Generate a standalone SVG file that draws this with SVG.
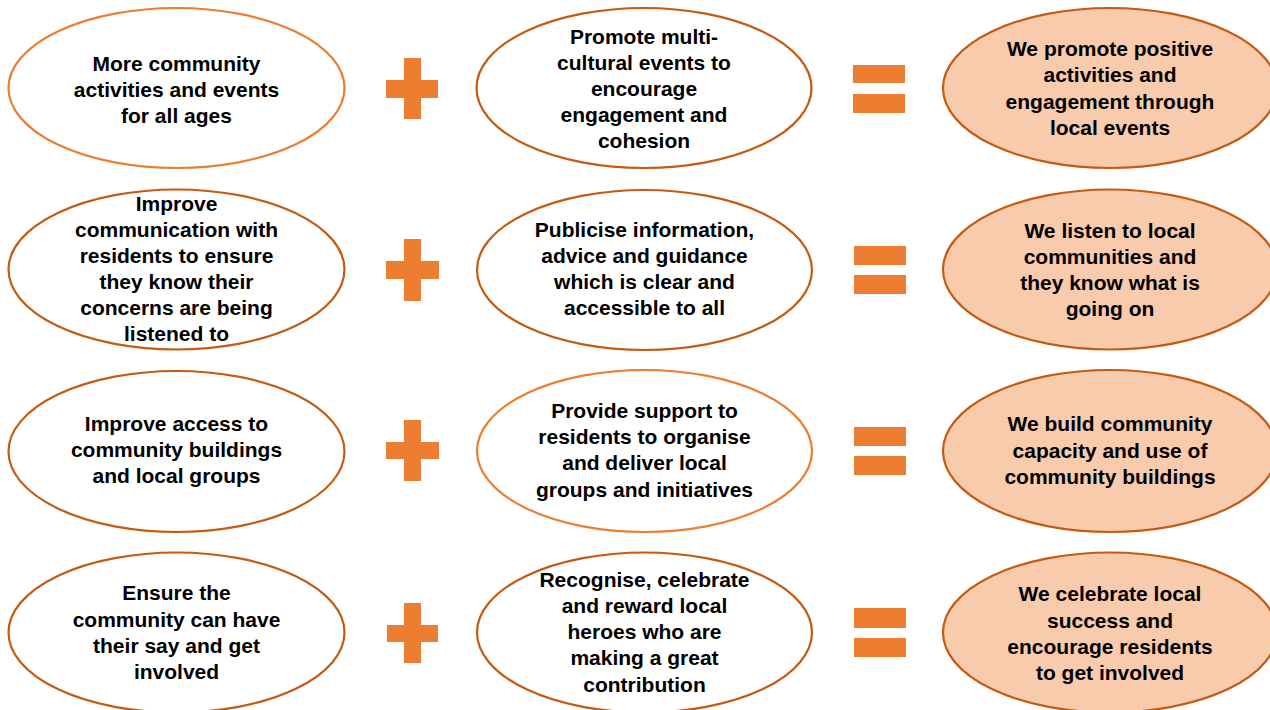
<svg xmlns="http://www.w3.org/2000/svg" width="1270" height="710" viewBox="0 0 1270 710">
<style>
.e{fill:#ffffff;stroke:#C55A11;stroke-width:2.2}
.el{fill:#ffffff;stroke:#ED7D31;stroke-width:2.2}
.r{fill:#F8CBAD;stroke:#C55A11;stroke-width:2.2}
.op{fill:#ED7D31}
text{font-family:"Liberation Sans",Arial,sans-serif;font-weight:bold;font-size:21px;fill:#000;text-anchor:middle}
</style>
<rect width="1270" height="710" fill="#ffffff"/>
<g id="connectors">
<path class="op" d="M404 58H421V80H438V98H421V119H404V98H386V80H404Z"/>
<path class="op" d="M404 239H421V261H439V279H421V301H404V279H386V261H404Z"/>
<path class="op" d="M404 420H421V442H439V459H421V481H404V459H386V442H404Z"/>
<path class="op" d="M404 603H421V625H438V642H421V663H404V642H387V625H404Z"/>
<rect class="op" x="853" y="65" width="52" height="18"/>
<rect class="op" x="853" y="94" width="52" height="19"/>
<rect class="op" x="854" y="246" width="52" height="19"/>
<rect class="op" x="854" y="275" width="52" height="19"/>
<rect class="op" x="854" y="427" width="52" height="19"/>
<rect class="op" x="854" y="456" width="52" height="19"/>
<rect class="op" x="854" y="608" width="52" height="20"/>
<rect class="op" x="854" y="638" width="52" height="19"/>
</g>
<g id="n1a"><ellipse class="el" cx="176.5" cy="88" rx="168" ry="80"/>
<text x="176.5" y="70.5">More community</text><text x="176.5" y="96.5">activities and events</text><text x="176.5" y="122.5">for all ages</text></g>
<g id="n1b"><ellipse class="e" cx="644" cy="88" rx="167.5" ry="80"/>
<text x="644" y="44">Promote multi-</text><text x="644" y="70">cultural events to</text><text x="644" y="96">encourage</text><text x="644" y="122">engagement and</text><text x="644" y="148">cohesion</text></g>
<g id="n1c"><ellipse class="r" cx="1110" cy="88" rx="167" ry="80"/>
<text x="1110" y="55.5">We promote positive</text><text x="1110" y="82">activities and</text><text x="1110" y="108.5">engagement through</text><text x="1110" y="135">local events</text></g>
<g id="n2a"><ellipse class="e" cx="176.5" cy="269.5" rx="168" ry="80"/>
<text x="176.5" y="210.5">Improve</text><text x="176.5" y="236.5">communication with</text><text x="176.5" y="262.5">residents to ensure</text><text x="176.5" y="288.5">they know their</text><text x="176.5" y="314.5">concerns are being</text><text x="176.5" y="340.5">listened to</text></g>
<g id="n2b"><ellipse class="e" cx="644.5" cy="270" rx="167.5" ry="80"/>
<text x="644.5" y="237">Publicise information,</text><text x="644.5" y="263">advice and guidance</text><text x="644.5" y="289">which is clear and</text><text x="644.5" y="315">accessible to all</text></g>
<g id="n2c"><ellipse class="r" cx="1110" cy="269.5" rx="167" ry="80"/>
<text x="1110" y="237.5">We listen to local</text><text x="1110" y="263.5">communities and</text><text x="1110" y="289.5">they know what is</text><text x="1110" y="315.5">going on</text></g>
<g id="n3a"><ellipse class="e" cx="176.5" cy="451.5" rx="168" ry="80.5"/>
<text x="176.5" y="431">Improve access to</text><text x="176.5" y="457">community buildings</text><text x="176.5" y="483">and local groups</text></g>
<g id="n3b"><ellipse class="el" cx="644.5" cy="451" rx="167.5" ry="81"/>
<text x="644.5" y="417.5">Provide support to</text><text x="644.5" y="444">residents to organise</text><text x="644.5" y="470">and deliver local</text><text x="644.5" y="496.5">groups and initiatives</text></g>
<g id="n3c"><ellipse class="r" cx="1110" cy="451" rx="167" ry="81"/>
<text x="1110" y="431">We build community</text><text x="1110" y="457.5">capacity and use of</text><text x="1110" y="484">community buildings</text></g>
<g id="n4a"><ellipse class="e" cx="176.5" cy="632.5" rx="168" ry="80"/>
<text x="176.5" y="600">Ensure the</text><text x="176.5" y="626.5">community can have</text><text x="176.5" y="652.5">their say and get</text><text x="176.5" y="678.5">involved</text></g>
<g id="n4b"><ellipse class="e" cx="644.5" cy="632.5" rx="167.5" ry="80"/>
<text x="644.5" y="587">Recognise, celebrate</text><text x="644.5" y="613">and reward local</text><text x="644.5" y="639">heroes who are</text><text x="644.5" y="665">making a great</text><text x="644.5" y="691.5">contribution</text></g>
<g id="n4c"><ellipse class="r" cx="1110" cy="632.5" rx="167" ry="80"/>
<text x="1110" y="601">We celebrate local</text><text x="1110" y="627.5">success and</text><text x="1110" y="653.5">encourage residents</text><text x="1110" y="679.5">to get involved</text></g>
</svg>
